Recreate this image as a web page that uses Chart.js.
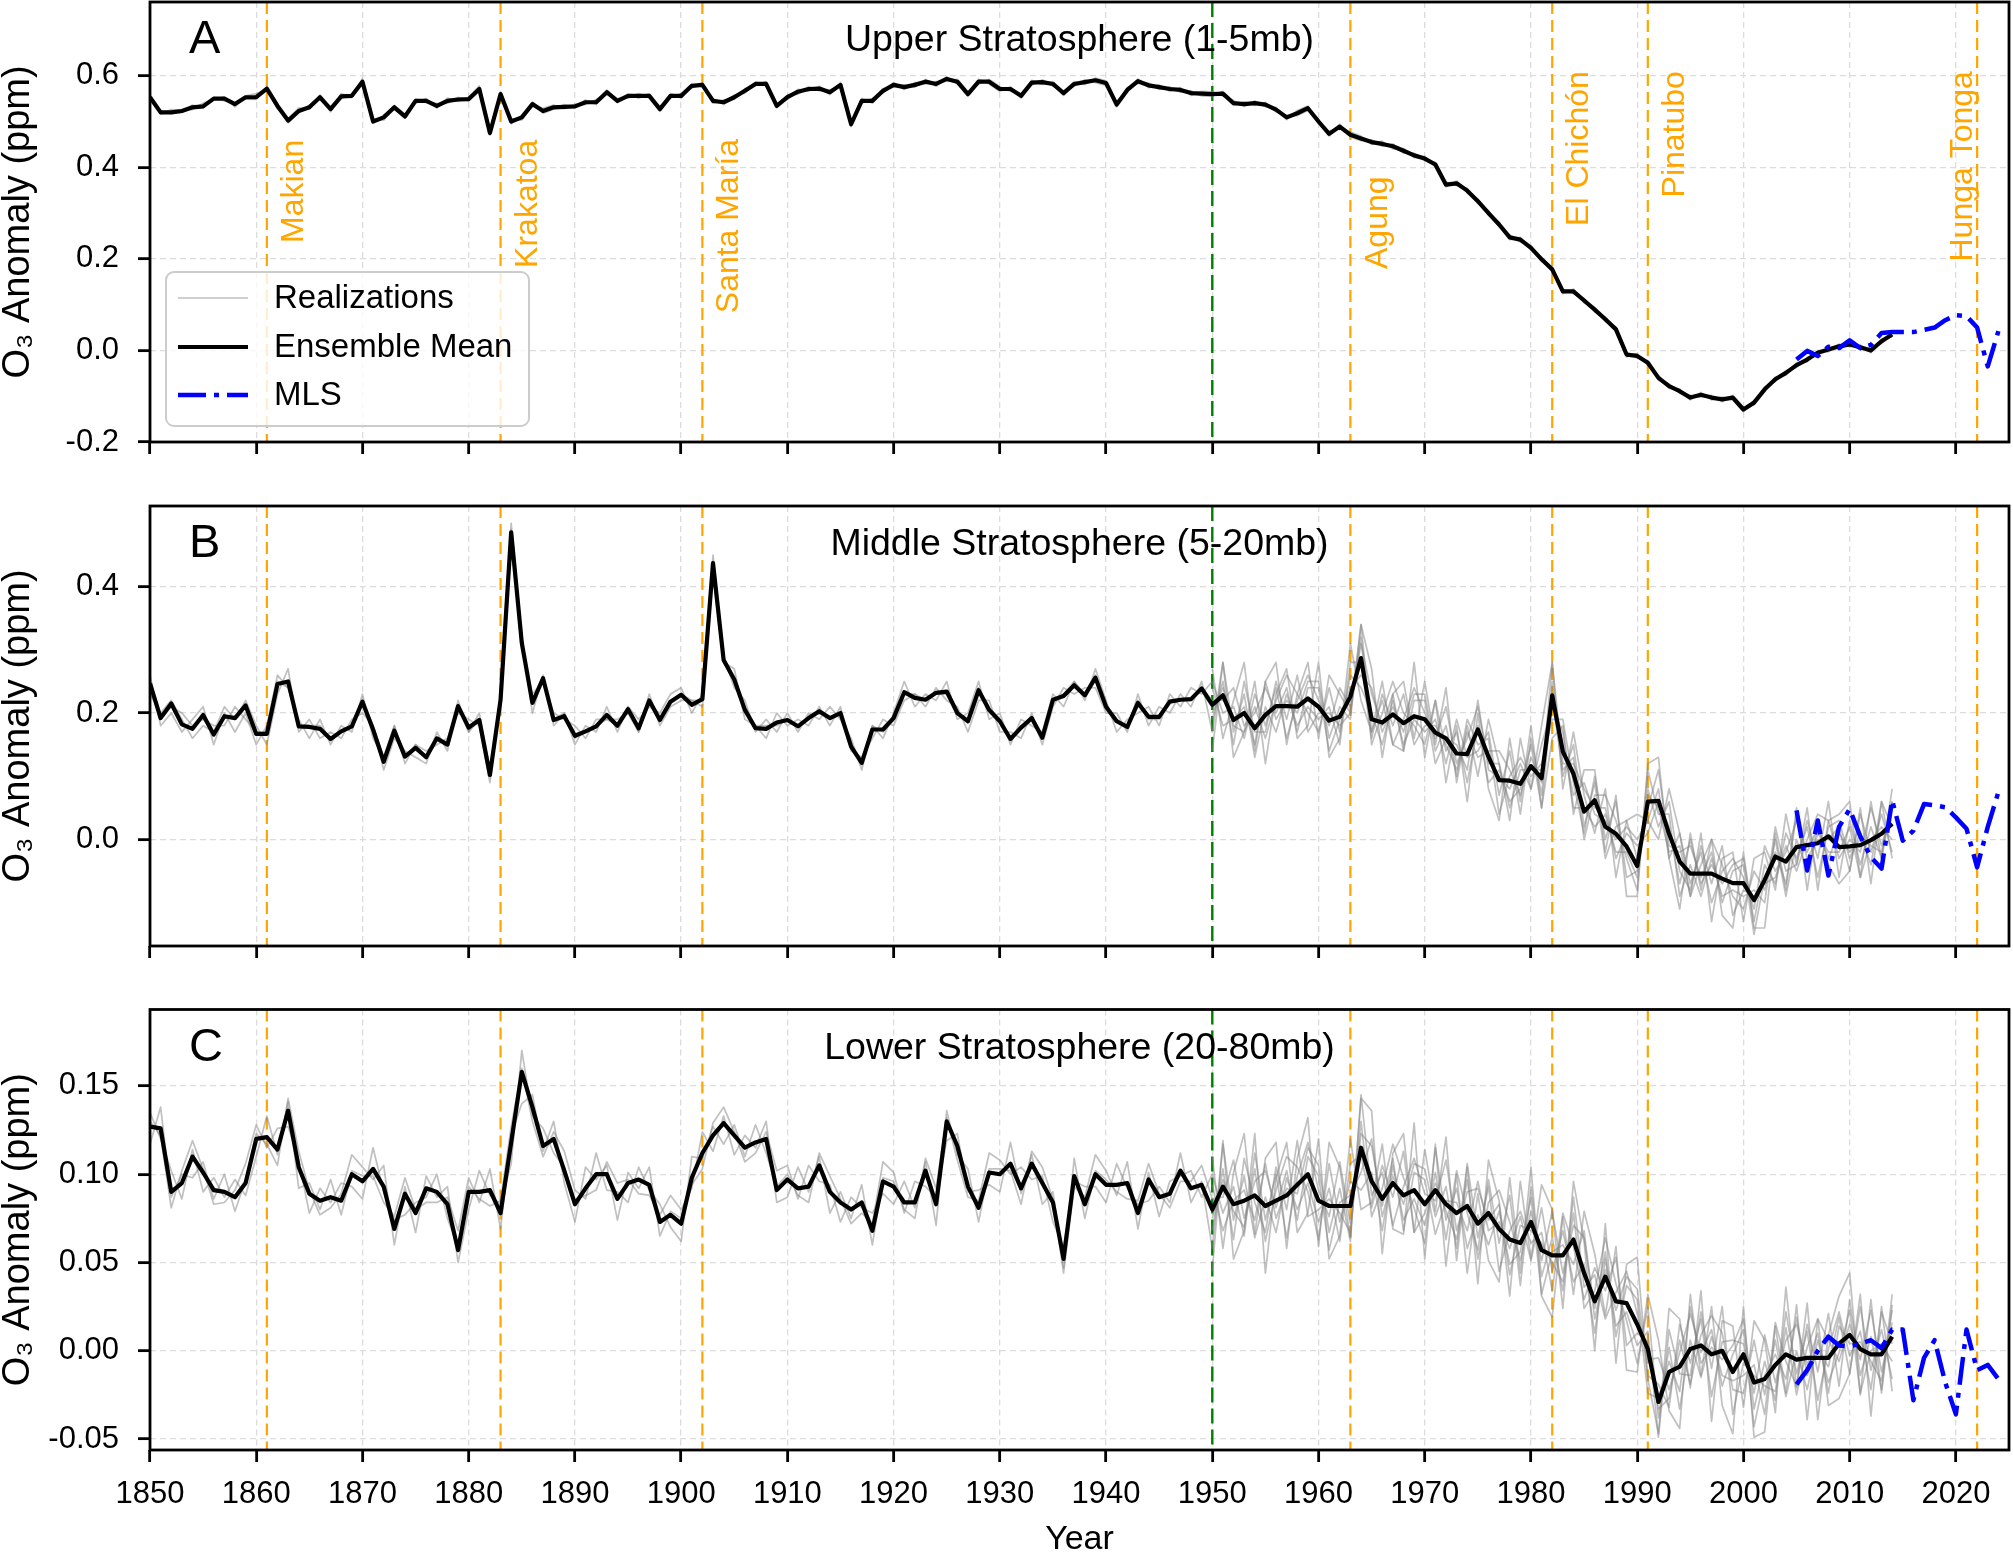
<!DOCTYPE html>
<html>
<head>
<meta charset="utf-8">
<script src="https://cdn.jsdelivr.net/npm/chart.js@4.4.1/dist/chart.umd.min.js"></script>
<style>
html,body{margin:0;padding:0;background:#ffffff;}
body{width:2013px;height:1557px;position:relative;overflow:hidden;}
canvas{position:absolute;left:0;display:block;}
</style>
</head>
<body>
<canvas id="panelA" width="2013" height="460" style="top:0px;width:2013px;height:460px"></canvas>
<canvas id="panelB" width="2013" height="500" style="top:460px;width:2013px;height:500px"></canvas>
<canvas id="panelC" width="2013" height="597" style="top:960px;width:2013px;height:597px"></canvas>
<script>
// ================= DATA =================
const modelStartYear = 1850;      // model series run 1850..2014
const extraMembersStartYear = 1950; // additional realizations start 1950
const mlsStartYear = 2005;        // MLS observations 2005..2024
const xTicks = [1850,1860,1870,1880,1890,1900,1910,1920,1930,1940,1950,1960,1970,1980,1990,2000,2010,2020];
const volcanoNames = ['Makian','Krakatoa','Santa María','Agung','El Chichón','Pinatubo','Hunga Tonga'];
const volcanoYears = [1861,1883,1902,1963,1982,1991,2022];
const referenceYear = 1950;

const yTicksA = [-0.2,0.0,0.2,0.4,0.6];
const yTickLabelsA = ['-0.2','0.0','0.2','0.4','0.6'];
const yTicksB = [0.0,0.2,0.4];
const yTickLabelsB = ['0.0','0.2','0.4'];
const yTicksC = [-0.05,0.0,0.05,0.10,0.15];
const yTickLabelsC = ['-0.05','0.00','0.05','0.10','0.15'];

// ---- Panel A: Upper Stratosphere (1-5mb) ----
const meanA = [
0.553,0.52,0.52,0.523,0.531,0.533,0.55,0.55,0.538,0.553,
0.553,0.572,0.534,0.502,0.523,0.531,0.553,0.527,0.555,0.556,
0.587,0.5,0.509,0.531,0.511,0.545,0.545,0.534,0.545,0.548,
0.549,0.571,0.475,0.56,0.5,0.509,0.538,0.523,0.531,0.532,
0.533,0.542,0.542,0.564,0.545,0.556,0.556,0.556,0.527,0.556,
0.556,0.578,0.58,0.545,0.542,0.553,0.567,0.582,0.582,0.534,
0.553,0.565,0.571,0.572,0.564,0.58,0.494,0.545,0.545,0.567,
0.58,0.575,0.58,0.587,0.582,0.593,0.587,0.56,0.587,0.587,
0.571,0.571,0.556,0.585,0.586,0.582,0.562,0.582,0.586,0.59,
0.584,0.537,0.569,0.588,0.579,0.575,0.571,0.569,0.562,0.561,
0.56,0.561,0.54,0.538,0.54,0.537,0.526,0.509,0.518,0.529,
0.5,0.473,0.489,0.471,0.463,0.455,0.451,0.446,0.436,0.426,
0.419,0.406,0.362,0.365,0.349,0.326,0.3,0.275,0.247,0.242,
0.224,0.199,0.177,0.129,0.129,0.109,0.089,0.068,0.046,-0.009,
-0.012,-0.027,-0.06,-0.078,-0.089,-0.103,-0.097,-0.103,-0.107,-0.103,
-0.129,-0.114,-0.085,-0.063,-0.049,-0.032,-0.02,-0.005,0.002,0.009,
0.013,0.007,0.0,0.02,0.035];
const realA1 = [
0.558,0.516,0.526,0.525,0.526,0.54,0.547,0.554,0.532,0.556,
0.561,0.568,0.528,0.506,0.53,0.527,0.558,0.521,0.561,0.552,
0.594,0.505,0.503,0.535,0.516,0.54,0.55,0.529,0.551,0.544,
0.553,0.578,0.482,0.555,0.495,0.514,0.533,0.529,0.536,0.528,
0.538,0.537,0.548,0.559,0.55,0.551,0.561,0.552,0.533,0.552,
0.561,0.573,0.585,0.54,0.547,0.549,0.572,0.578,0.587,0.539,
0.548,0.57,0.566,0.577,0.559,0.585,0.5,0.54,0.55,0.562,
0.585,0.57,0.585,0.582,0.587,0.588,0.592,0.565,0.582,0.592,
0.576,0.566,0.561,0.58,0.591,0.577,0.567,0.577,0.591,0.585,
0.579,0.543,0.564,0.593,0.574,0.58,0.566,0.574,0.557,0.566,
0.565,0.556,0.546,0.533,0.545,0.532,0.531,0.504,0.524,0.534,
0.495,0.479,0.484,0.477,0.468,0.45,0.457,0.44,0.441,0.421,
0.424,0.401,0.368,0.36,0.354,0.321,0.305,0.27,0.252,0.237,
0.229,0.194,0.182,0.124,0.134,0.104,0.094,0.063,0.051,-0.004,
-0.017,-0.022,-0.065,-0.073,-0.094,-0.098,-0.102,-0.098,-0.112,-0.098,
-0.124,-0.119,-0.08,-0.068,-0.044,-0.037,-0.015,-0.01,0.007,0.004,
0.018,0.002,0.005,0.015,0.04];
const realA2 = [
0.549,0.524,0.517,0.52,0.536,0.529,0.553,0.545,0.541,0.549,
0.548,0.575,0.539,0.497,0.519,0.536,0.549,0.532,0.55,0.56,
0.582,0.496,0.514,0.527,0.507,0.549,0.541,0.539,0.54,0.553,
0.545,0.566,0.47,0.565,0.506,0.503,0.543,0.518,0.527,0.537,
0.529,0.547,0.537,0.569,0.541,0.56,0.551,0.561,0.522,0.561,
0.551,0.582,0.576,0.55,0.537,0.558,0.562,0.586,0.577,0.53,
0.558,0.56,0.576,0.567,0.569,0.575,0.489,0.55,0.54,0.572,
0.575,0.58,0.575,0.592,0.577,0.598,0.582,0.555,0.592,0.582,
0.566,0.576,0.551,0.59,0.581,0.587,0.557,0.587,0.581,0.595,
0.589,0.532,0.574,0.583,0.584,0.57,0.576,0.564,0.567,0.556,
0.555,0.566,0.535,0.543,0.535,0.542,0.521,0.514,0.513,0.524,
0.505,0.468,0.494,0.466,0.458,0.46,0.446,0.451,0.431,0.431,
0.414,0.411,0.357,0.37,0.344,0.331,0.295,0.28,0.242,0.247,
0.219,0.204,0.172,0.134,0.124,0.114,0.084,0.073,0.041,-0.014,
-0.007,-0.032,-0.055,-0.083,-0.084,-0.108,-0.092,-0.108,-0.102,-0.108,
-0.134,-0.109,-0.09,-0.058,-0.054,-0.027,-0.025,0.0,-0.003,0.014,
0.008,0.012,-0.005,0.025,0.03];
const mlsA = [-0.02,-0.001,-0.012,0.008,0.005,0.022,0.005,0.012,0.038,0.04,0.04,0.04,0.045,0.05,0.066,0.077,0.075,0.05,-0.035,0.042];

// ---- Panel B: Middle Stratosphere (5-20mb) ----
const meanB = [
0.247,0.192,0.215,0.182,0.175,0.197,0.166,0.195,0.192,0.212,
0.167,0.167,0.246,0.25,0.179,0.178,0.175,0.159,0.171,0.179,
0.218,0.174,0.123,0.172,0.131,0.145,0.13,0.16,0.15,0.211,
0.177,0.189,0.102,0.221,0.486,0.311,0.216,0.255,0.189,0.195,
0.164,0.171,0.179,0.197,0.18,0.206,0.176,0.22,0.189,0.218,
0.229,0.213,0.222,0.437,0.284,0.253,0.205,0.176,0.175,0.185,
0.189,0.179,0.192,0.203,0.192,0.2,0.147,0.121,0.174,0.174,
0.192,0.233,0.224,0.221,0.232,0.234,0.2,0.187,0.236,0.205,
0.187,0.159,0.177,0.192,0.161,0.221,0.227,0.244,0.228,0.256,
0.21,0.187,0.178,0.216,0.194,0.194,0.218,0.221,0.222,0.239,
0.213,0.228,0.189,0.2,0.176,0.197,0.211,0.211,0.21,0.223,
0.21,0.188,0.194,0.226,0.287,0.19,0.185,0.198,0.184,0.195,
0.19,0.169,0.16,0.136,0.135,0.174,0.131,0.094,0.093,0.088,
0.116,0.097,0.228,0.139,0.104,0.044,0.062,0.02,0.009,-0.011,
-0.042,0.06,0.061,0.009,-0.035,-0.054,-0.054,-0.054,-0.062,-0.069,
-0.069,-0.096,-0.064,-0.027,-0.035,-0.012,-0.009,-0.006,0.005,-0.012,
-0.011,-0.009,-0.001,0.009,0.025];
const realB1 = [
0.26,0.18,0.2,0.17,0.19,0.21,0.15,0.2,0.17,0.2,
0.15,0.18,0.26,0.24,0.19,0.16,0.19,0.15,0.18,0.17,
0.23,0.16,0.13,0.18,0.12,0.15,0.14,0.15,0.16,0.2,
0.19,0.18,0.09,0.23,0.5,0.32,0.2,0.26,0.18,0.2,
0.15,0.18,0.17,0.21,0.17,0.21,0.19,0.21,0.2,0.23,
0.24,0.2,0.23,0.45,0.29,0.24,0.22,0.17,0.19,0.17,
0.2,0.17,0.2,0.19,0.21,0.19,0.16,0.11,0.18,0.16,
0.2,0.25,0.21,0.23,0.22,0.25,0.19,0.2,0.25,0.19,
0.2,0.15,0.19,0.18,0.17,0.23,0.21,0.25,0.22,0.27,
0.22,0.17,0.19,0.2,0.21,0.18,0.23,0.21,0.24,0.23,
0.25,0.2,0.21,0.16,0.23,0.18,0.24,0.16,0.22,0.26,
0.22,0.18,0.24,0.21,0.31,0.23,0.18,0.23,0.14,0.22,
0.22,0.12,0.16,0.15,0.11,0.22,0.11,0.1,0.08,0.12,
0.08,0.15,0.21,0.17,0.05,0.05,0.02,0.04,-0.02,-0.02,
-0.06,0.08,0.02,0.06,-0.05,-0.08,-0.01,-0.07,-0.01,-0.12,
-0.08,-0.09,-0.07,-0.06,-0.01,-0.05,0.0,0.04,0.03,-0.03,
0.0,-0.02,0.05,-0.01,0.05];
const realB2 = [
0.23,0.2,0.22,0.19,0.16,0.18,0.17,0.21,0.19,0.22,
0.18,0.15,0.23,0.27,0.17,0.19,0.16,0.17,0.16,0.19,
0.2,0.18,0.11,0.16,0.14,0.13,0.12,0.17,0.14,0.22,
0.17,0.2,0.11,0.21,0.47,0.3,0.23,0.25,0.2,0.19,
0.18,0.16,0.19,0.19,0.19,0.2,0.17,0.23,0.18,0.21,
0.22,0.22,0.21,0.42,0.28,0.27,0.19,0.18,0.16,0.2,
0.18,0.19,0.18,0.21,0.18,0.21,0.14,0.13,0.16,0.19,
0.18,0.22,0.23,0.21,0.24,0.22,0.21,0.17,0.22,0.22,
0.17,0.17,0.16,0.2,0.15,0.21,0.24,0.23,0.24,0.24,
0.2,0.2,0.17,0.23,0.18,0.21,0.2,0.23,0.21,0.25,
0.17,0.28,0.17,0.23,0.13,0.21,0.17,0.23,0.18,0.21,
0.19,0.21,0.15,0.28,0.28,0.16,0.23,0.18,0.23,0.15,
0.18,0.18,0.15,0.11,0.17,0.13,0.14,0.14,0.11,0.07,
0.13,0.09,0.28,0.12,0.12,0.08,0.05,0.05,-0.03,0.01,
-0.01,0.01,0.06,0.02,-0.07,0.0,-0.07,-0.04,-0.07,-0.04,
-0.03,-0.13,-0.04,-0.07,0.01,-0.03,0.02,-0.06,0.02,0.03,
-0.03,0.01,-0.04,0.06,0.02];
const realB3 = [
0.24,0.19,0.21,0.2,0.18,0.19,0.18,0.18,0.21,0.19,
0.17,0.17,0.25,0.24,0.18,0.18,0.18,0.16,0.17,0.18,
0.22,0.18,0.13,0.18,0.13,0.15,0.13,0.16,0.15,0.21,
0.17,0.19,0.11,0.22,0.49,0.31,0.22,0.25,0.19,0.2,
0.16,0.17,0.18,0.19,0.18,0.21,0.17,0.22,0.19,0.22,
0.23,0.22,0.22,0.44,0.28,0.25,0.21,0.18,0.18,0.18,
0.19,0.18,0.19,0.2,0.19,0.2,0.15,0.12,0.18,0.17,
0.19,0.23,0.23,0.22,0.23,0.23,0.2,0.19,0.24,0.2,
0.19,0.16,0.18,0.19,0.16,0.22,0.23,0.25,0.23,0.26,
0.21,0.19,0.18,0.22,0.19,0.19,0.22,0.22,0.22,0.24,
0.22,0.22,0.24,0.18,0.2,0.24,0.2,0.24,0.17,0.24,
0.24,0.14,0.19,0.24,0.26,0.24,0.17,0.21,0.17,0.23,
0.23,0.14,0.18,0.1,0.19,0.15,0.16,0.04,0.1,0.13,
0.1,0.12,0.19,0.19,0.09,0.01,0.1,0.0,0.06,-0.06,
-0.05,0.07,0.05,-0.02,-0.01,-0.09,-0.04,0.0,-0.04,-0.09,
-0.11,-0.05,-0.08,0.0,-0.09,0.0,-0.05,0.01,-0.02,-0.02,
0.02,-0.06,0.0,0.02,0.0];
const realB4 = [
0.19,0.25,0.15,0.25,0.17,0.17,0.25,0.19,0.26,0.17,
0.2,0.2,0.18,0.2,0.32,0.15,0.2,0.25,0.2,0.18,
0.15,0.22,0.14,0.17,0.09,0.18,0.09,0.11,0.06,0.08,
0.15,0.05,0.23,0.15,0.07,0.09,0.04,0.03,0.0,0.02,
0.0,0.03,0.08,-0.03,0.01,-0.07,-0.02,-0.1,-0.05,-0.03,
-0.06,-0.11,-0.01,-0.05,-0.02,0.03,-0.02,0.02,-0.03,0.01,
-0.02,0.0,-0.01,-0.02,0.06];
const realB5 = [
0.24,0.18,0.19,0.21,0.15,0.25,0.19,0.22,0.2,0.25,
0.25,0.16,0.21,0.19,0.34,0.17,0.22,0.15,0.19,0.24,
0.2,0.16,0.21,0.12,0.16,0.21,0.12,0.12,0.05,0.11,
0.11,0.11,0.22,0.11,0.13,0.0,0.07,0.07,0.03,-0.03,
-0.08,0.11,0.04,0.04,-0.09,-0.04,-0.09,-0.03,-0.09,-0.08,
-0.09,-0.08,-0.1,0.02,-0.05,-0.04,0.03,-0.03,0.06,-0.06,
0.03,-0.04,0.02,-0.03,0.08];
const realB6 = [
0.2,0.24,0.18,0.17,0.21,0.16,0.22,0.26,0.23,0.2,
0.17,0.24,0.17,0.26,0.24,0.2,0.15,0.22,0.15,0.19,
0.17,0.19,0.12,0.19,0.13,0.14,0.17,0.07,0.14,0.04,
0.16,0.07,0.25,0.1,0.15,0.02,0.09,-0.03,0.02,0.03,
-0.03,0.05,0.11,-0.01,-0.02,-0.01,-0.06,-0.02,-0.1,-0.05,
-0.04,-0.15,-0.06,-0.02,-0.07,0.04,-0.03,0.0,0.0,0.02,
-0.05,0.04,-0.02,0.04,-0.02];
const realB7 = [
0.27,0.16,0.22,0.28,0.14,0.25,0.28,0.15,0.23,0.28,
0.16,0.26,0.23,0.2,0.34,0.27,0.13,0.23,0.25,0.16,
0.25,0.15,0.24,0.09,0.18,0.1,0.19,0.12,0.03,0.16,
0.08,0.18,0.28,0.08,0.17,0.07,0.01,0.08,-0.06,0.03,
0.04,0.03,0.0,0.08,0.01,-0.09,0.01,-0.13,-0.03,-0.02,
-0.13,-0.03,-0.02,-0.08,0.04,-0.04,0.05,-0.08,0.03,0.04,
0.06,-0.06,0.06,-0.03,0.06];
const realB8 = [
0.14,0.28,0.13,0.17,0.25,0.12,0.23,0.27,0.16,0.18,
0.28,0.13,0.16,0.31,0.22,0.17,0.25,0.15,0.14,0.28,
0.13,0.22,0.09,0.18,0.06,0.2,0.08,0.03,0.16,0.06,
0.18,0.05,0.16,0.18,0.04,0.11,0.11,-0.02,0.07,-0.09,
-0.09,0.12,0.13,-0.03,-0.11,0.01,-0.08,0.0,-0.12,-0.14,
-0.02,-0.14,-0.14,0.01,-0.08,0.05,-0.08,0.03,-0.04,-0.07,
-0.05,0.05,-0.07,0.06,-0.03];
const mlsB = [0.046,-0.049,0.03,-0.057,0.02,0.048,0.005,-0.028,-0.046,0.062,-0.002,0.014,0.056,0.054,0.051,0.035,0.017,-0.044,0.02,0.075];

// ---- Panel C: Lower Stratosphere (20-80mb) ----
const meanC = [
0.127,0.126,0.090,0.095,0.110,0.101,0.091,0.090,0.087,0.095,
0.120,0.121,0.114,0.136,0.104,0.089,0.085,0.087,0.085,0.100,
0.096,0.103,0.093,0.069,0.089,0.078,0.092,0.090,0.083,0.057,
0.090,0.090,0.091,0.078,0.118,0.158,0.138,0.116,0.120,0.102,
0.083,0.092,0.100,0.100,0.086,0.095,0.097,0.094,0.073,0.077,
0.072,0.098,0.112,0.122,0.129,0.122,0.115,0.118,0.120,0.091,
0.097,0.092,0.093,0.105,0.090,0.084,0.080,0.084,0.068,0.096,
0.093,0.084,0.084,0.102,0.083,0.130,0.116,0.093,0.081,0.101,
0.100,0.106,0.092,0.106,0.095,0.084,0.052,0.099,0.083,0.100,
0.094,0.094,0.095,0.078,0.097,0.087,0.089,0.102,0.092,0.094,
0.080,0.093,0.083,0.085,0.088,0.082,0.085,0.088,0.094,0.100,
0.085,0.082,0.082,0.082,0.115,0.096,0.086,0.095,0.088,0.091,
0.083,0.091,0.083,0.078,0.082,0.072,0.078,0.069,0.063,0.061,
0.073,0.057,0.054,0.054,0.063,0.044,0.028,0.042,0.028,0.027,
0.015,0.001,-0.029,-0.012,-0.009,0.001,0.003,-0.002,0.000,-0.012,
-0.002,-0.018,-0.016,-0.008,-0.002,-0.005,-0.004,-0.004,-0.004,0.004,
0.009,0.001,-0.002,-0.002,0.008];
const realC1 = [
0.135,0.120,0.102,0.086,0.114,0.090,0.098,0.087,0.097,0.088,
0.110,0.133,0.111,0.141,0.092,0.095,0.080,0.097,0.077,0.102,
0.099,0.099,0.084,0.076,0.098,0.080,0.084,0.084,0.087,0.068,
0.098,0.084,0.103,0.069,0.122,0.140,0.145,0.113,0.130,0.095,
0.073,0.104,0.097,0.105,0.074,0.101,0.092,0.104,0.065,0.079,
0.075,0.094,0.103,0.129,0.138,0.124,0.107,0.112,0.124,0.102,
0.105,0.086,0.105,0.096,0.094,0.073,0.087,0.081,0.078,0.089,
0.083,0.096,0.081,0.107,0.071,0.136,0.111,0.103,0.073,0.103,
0.103,0.102,0.083,0.113,0.104,0.086,0.044,0.093,0.087,0.111,
0.102,0.088,0.107,0.069,0.101,0.076,0.096,0.099,0.102,0.087,
0.100,0.078,0.093,0.065,0.112,0.074,0.100,0.064,0.099,0.118,
0.091,0.076,0.107,0.072,0.123,0.116,0.082,0.109,0.068,0.101,
0.097,0.066,0.085,0.084,0.068,0.096,0.068,0.073,0.058,0.076,
0.051,0.081,0.045,0.068,0.039,0.049,0.010,0.052,0.014,0.022,
0.003,0.011,-0.049,0.012,-0.013,-0.014,0.022,-0.010,0.025,-0.036,
-0.007,-0.014,-0.020,-0.023,0.013,-0.025,0.002,0.018,0.006,-0.006,
0.015,-0.005,0.023,-0.012,0.016];
const realC2 = [
0.117,0.138,0.087,0.100,0.098,0.107,0.086,0.100,0.079,0.097,
0.123,0.117,0.105,0.143,0.113,0.091,0.077,0.081,0.089,0.111,
0.104,0.097,0.105,0.060,0.093,0.067,0.099,0.087,0.093,0.050,
0.080,0.102,0.088,0.083,0.106,0.170,0.133,0.126,0.112,0.104,
0.086,0.088,0.091,0.107,0.095,0.097,0.089,0.088,0.077,0.088,
0.080,0.092,0.124,0.113,0.133,0.111,0.122,0.115,0.130,0.084,
0.087,0.104,0.090,0.110,0.078,0.090,0.075,0.094,0.060,0.098,
0.096,0.080,0.075,0.109,0.092,0.132,0.108,0.087,0.085,0.112,
0.108,0.100,0.104,0.097,0.099,0.073,0.059,0.096,0.093,0.093,
0.084,0.106,0.092,0.083,0.085,0.093,0.084,0.112,0.084,0.096,
0.058,0.117,0.074,0.099,0.064,0.087,0.067,0.098,0.080,0.095,
0.073,0.092,0.062,0.106,0.111,0.081,0.105,0.087,0.113,0.067,
0.078,0.095,0.079,0.063,0.097,0.052,0.084,0.091,0.073,0.051,
0.079,0.051,0.079,0.044,0.071,0.064,0.024,0.056,0.008,0.037,
0.029,-0.024,-0.027,-0.006,-0.023,0.025,-0.007,0.002,-0.005,0.003,
0.018,-0.033,-0.006,-0.028,0.022,-0.013,0.011,-0.028,0.001,0.022,
-0.003,0.011,-0.022,0.022,0.004];
const realC3 = [
0.130,0.122,0.081,0.102,0.119,0.103,0.083,0.084,0.091,0.106,
0.128,0.115,0.126,0.127,0.108,0.078,0.092,0.084,0.095,0.093,
0.086,0.115,0.090,0.074,0.077,0.084,0.087,0.100,0.075,0.059,
0.093,0.086,0.082,0.085,0.127,0.160,0.130,0.110,0.124,0.113,
0.091,0.086,0.112,0.091,0.090,0.084,0.104,0.091,0.083,0.070,
0.062,0.110,0.109,0.127,0.117,0.128,0.110,0.128,0.112,0.093,
0.100,0.088,0.084,0.112,0.099,0.086,0.072,0.078,0.072,0.107,
0.101,0.078,0.096,0.093,0.087,0.119,0.123,0.090,0.091,0.094,
0.090,0.118,0.089,0.111,0.083,0.090,0.047,0.109,0.075,0.102,
0.097,0.090,0.086,0.085,0.106,0.089,0.081,0.096,0.096,0.105,
0.086,0.087,0.108,0.075,0.096,0.102,0.081,0.102,0.074,0.110,
0.099,0.057,0.084,0.088,0.101,0.120,0.076,0.099,0.083,0.106,
0.103,0.076,0.093,0.058,0.106,0.064,0.093,0.045,0.068,0.079,
0.061,0.067,0.034,0.078,0.059,0.029,0.047,0.034,0.053,0.003,
0.010,0.005,-0.033,-0.027,0.006,-0.019,0.009,0.020,0.010,-0.022,
-0.024,0.006,-0.025,0.006,-0.026,0.000,-0.022,0.006,-0.018,-0.001,
0.023,-0.024,0.000,0.004,-0.006];
const realC4 = [
0.068,0.103,0.063,0.109,0.084,0.067,0.104,0.080,0.119,0.076,
0.080,0.086,0.078,0.067,0.130,0.076,0.092,0.117,0.098,0.081,
0.061,0.115,0.074,0.092,0.058,0.077,0.060,0.079,0.049,0.056,
0.087,0.032,0.056,0.060,0.049,0.068,0.018,0.046,0.023,0.042,
0.035,-0.014,-0.019,-0.032,0.015,-0.007,0.018,-0.026,0.005,0.006,
0.004,-0.024,0.009,-0.018,0.006,0.015,-0.008,0.010,-0.024,0.014,
0.004,0.005,-0.006,-0.017,0.023];
const realC5 = [
0.094,0.068,0.085,0.091,0.074,0.106,0.075,0.092,0.089,0.115,
0.105,0.067,0.092,0.062,0.145,0.088,0.101,0.071,0.093,0.109,
0.089,0.085,0.108,0.068,0.090,0.092,0.074,0.083,0.043,0.071,
0.068,0.061,0.050,0.039,0.078,0.024,0.034,0.064,0.038,0.017,
-0.007,0.025,-0.038,0.002,-0.033,0.006,-0.015,0.008,-0.014,-0.017,
-0.014,-0.008,-0.036,0.016,-0.006,-0.020,0.015,-0.012,0.021,-0.020,
0.029,-0.014,0.008,-0.022,0.032];
const realC6 = [
0.075,0.097,0.079,0.070,0.103,0.062,0.091,0.110,0.104,0.090,
0.063,0.106,0.073,0.096,0.091,0.101,0.068,0.105,0.074,0.086,
0.071,0.101,0.063,0.102,0.078,0.057,0.097,0.061,0.088,0.037,
0.093,0.042,0.064,0.034,0.087,0.036,0.043,0.018,0.033,0.045,
0.021,-0.005,-0.004,-0.022,-0.001,0.021,-0.001,0.012,-0.020,-0.002,
0.012,-0.043,-0.014,-0.002,-0.016,0.019,-0.014,0.000,-0.009,0.019,
-0.013,0.025,-0.011,0.012,-0.016];
const realC7 = [
0.110,0.058,0.101,0.123,0.066,0.109,0.118,0.058,0.109,0.132,
0.059,0.118,0.104,0.064,0.143,0.136,0.055,0.112,0.123,0.067,
0.114,0.079,0.121,0.051,0.104,0.038,0.108,0.085,0.031,0.096,
0.052,0.094,0.080,0.024,0.096,0.062,0.000,0.072,-0.007,0.049,
0.053,-0.016,-0.047,0.024,0.018,-0.021,0.034,-0.040,0.017,0.014,
-0.032,0.017,0.006,-0.035,0.036,-0.021,0.027,-0.039,0.009,0.031,
0.044,-0.025,0.029,-0.024,0.026];
const realC8 = [
0.045,0.119,0.052,0.068,0.123,0.044,0.098,0.118,0.067,0.078,
0.120,0.052,0.065,0.120,0.080,0.084,0.117,0.069,0.066,0.129,
0.052,0.117,0.048,0.100,0.044,0.089,0.051,0.039,0.098,0.044,
0.104,0.031,0.019,0.076,0.032,0.079,0.055,0.020,0.059,-0.011,
-0.012,0.032,0.006,-0.034,-0.044,0.032,-0.014,0.025,-0.031,-0.047,
0.025,-0.049,-0.046,0.014,-0.024,0.026,-0.039,0.018,-0.031,-0.027,
-0.013,0.032,-0.037,0.025,-0.023];
const mlsC = [-0.019,-0.011,0.0,0.008,0.003,0.0025,0.004,0.006,0.0015,0.012,0.012,-0.028,-0.004,0.006,-0.018,-0.036,0.012,-0.011,-0.008,-0.016];

// ================= STYLE / LAYOUT =================
const FONT = "'Liberation Sans', Arial, Helvetica, sans-serif";
Chart.defaults.font.family = FONT;
Chart.defaults.color = '#000';

const COL_REAL = 'rgba(130,130,130,0.5)';
const COL_MEAN = '#000000';
const COL_MLS = '#0000ff';
const COL_VOLC = '#ffa500';
const COL_REF = '#008000';
const COL_GRID = '#dcdcdc';
const MLS_DASH = [28, 8, 5, 8];
const TICK_LEN = 12;

function series(values, start) {
  return values.map((v, i) => ({x: start + i, y: v}));
}

function roundRectPath(ctx, x, y, w, h, r) {
  ctx.beginPath();
  ctx.moveTo(x + r, y);
  ctx.lineTo(x + w - r, y);
  ctx.arcTo(x + w, y, x + w, y + r, r);
  ctx.lineTo(x + w, y + h - r);
  ctx.arcTo(x + w, y + h, x + w - r, y + h, r);
  ctx.lineTo(x + r, y + h);
  ctx.arcTo(x, y + h, x, y + h - r, r);
  ctx.lineTo(x, y + r);
  ctx.arcTo(x, y, x + r, y, r);
  ctx.closePath();
}

function drawLegend(ctx, a) {
  const bx = a.left + 16, by = a.top + 270, bw = 363, bh = 154;
  roundRectPath(ctx, bx, by, bw, bh, 8);
  ctx.setLineDash([]);
  ctx.fillStyle = 'rgba(255,255,255,0.8)';
  ctx.fill();
  ctx.strokeStyle = '#cccccc';
  ctx.lineWidth = 2;
  ctx.stroke();
  const hx1 = a.left + 28, hx2 = a.left + 98, tx = a.left + 124;
  const rows = [
    {label: 'Realizations', color: 'rgba(150,150,150,0.45)', width: 2, dash: [], y: a.top + 296},
    {label: 'Ensemble Mean', color: COL_MEAN, width: 4.2, dash: [], y: a.top + 345},
    {label: 'MLS', color: COL_MLS, width: 4.5, dash: MLS_DASH, y: a.top + 393}
  ];
  ctx.font = '33px ' + FONT;
  ctx.textAlign = 'left';
  ctx.textBaseline = 'middle';
  rows.forEach(r => {
    ctx.beginPath();
    ctx.setLineDash(r.dash);
    ctx.strokeStyle = r.color;
    ctx.lineWidth = r.width;
    ctx.moveTo(hx1, r.y);
    ctx.lineTo(hx2, r.y);
    ctx.stroke();
    ctx.setLineDash([]);
    ctx.fillStyle = '#000';
    ctx.fillText(r.label, tx, r.y + 1);
  });
}

function decorPlugin(p) {
  return {
    id: 'decor' + p.letter,
    beforeDatasetsDraw(chart) {
      const {ctx, chartArea: a, scales: {x}} = chart;
      ctx.save();
      ctx.beginPath();
      ctx.rect(a.left, a.top, a.right - a.left, a.bottom - a.top);
      ctx.clip();
      ctx.strokeStyle = COL_VOLC;
      ctx.lineWidth = 2.2;
      ctx.setLineDash([12, 6]);
      volcanoYears.forEach(v => {
        const px = x.getPixelForValue(v);
        ctx.beginPath(); ctx.moveTo(px, a.top); ctx.lineTo(px, a.bottom); ctx.stroke();
      });
      const gx = x.getPixelForValue(referenceYear);
      ctx.strokeStyle = COL_REF;
      ctx.lineWidth = 2.4;
      ctx.setLineDash([15, 6]);
      ctx.beginPath(); ctx.moveTo(gx, a.top); ctx.lineTo(gx, a.bottom); ctx.stroke();
      ctx.restore();
    },
    afterDatasetsDraw(chart) {
      const {ctx, chartArea: a, scales: {x, y}} = chart;
      ctx.save();
      if (p.volcanoLabels) {
        ctx.fillStyle = COL_VOLC;
        ctx.font = '32px ' + FONT;
        ctx.textAlign = 'right';
        ctx.textBaseline = 'alphabetic';
        volcanoNames.forEach((name, i) => {
          const px = x.getPixelForValue(volcanoYears[i]) + p.volcanoLabels.offsets[i];
          const py = y.getPixelForValue(p.volcanoLabels.tops[i]);
          ctx.save();
          ctx.translate(px, py);
          ctx.rotate(-Math.PI / 2);
          ctx.fillText(name, 0, 0);
          ctx.restore();
        });
      }
      ctx.setLineDash([]);
      ctx.strokeStyle = '#000';
      ctx.lineWidth = 2.8;
      ctx.strokeRect(a.left, a.top, a.right - a.left, a.bottom - a.top);
      ctx.fillStyle = '#000';
      ctx.textBaseline = 'alphabetic';
      ctx.textAlign = 'left';
      ctx.font = '47px ' + FONT;
      ctx.fillText(p.letter, a.left + 39, a.top + 51);
      ctx.textAlign = 'center';
      ctx.font = '37.5px ' + FONT;
      ctx.fillText(p.title, (a.left + a.right) / 2, a.top + 49);
      if (p.legend) drawLegend(ctx, a);
      ctx.restore();
    }
  };
}

function gridOpts() {
  return {
    color: COL_GRID, lineWidth: 1.3, drawTicks: true, tickLength: TICK_LEN,
    tickColor: '#000', tickWidth: 2.8, tickBorderDash: []
  };
}

function buildChart(id, p) {
  const datasets = [];
  p.realizations.forEach(r => {
    datasets.push({
      label: 'Realizations', data: series(r.values, r.start),
      borderColor: COL_REAL, borderWidth: 1.7, pointRadius: 0,
      borderJoinStyle: 'round', order: 3
    });
  });
  datasets.push({
    label: 'Ensemble Mean', data: series(p.mean, modelStartYear),
    borderColor: COL_MEAN, borderWidth: 4.2, pointRadius: 0,
    borderJoinStyle: 'round', order: 2
  });
  datasets.push({
    label: 'MLS', data: series(p.mls, mlsStartYear),
    borderColor: COL_MLS, borderWidth: 4.5, borderDash: MLS_DASH,
    pointRadius: 0, borderJoinStyle: 'round', order: 1
  });

  return new Chart(document.getElementById(id), {
    type: 'line',
    data: {datasets},
    options: {
      responsive: false,
      maintainAspectRatio: false,
      devicePixelRatio: 1,
      animation: false,
      events: [],
      layout: {padding: {top: p.padTop, right: 4, bottom: 0, left: 0}},
      plugins: {legend: {display: false}, tooltip: {enabled: false}, title: {display: false}},
      scales: {
        x: {
          type: 'linear', min: 1850, max: 2025,
          afterBuildTicks: s => { s.ticks = xTicks.map(v => ({value: v})); },
          afterFit: s => { s.height = p.xHeight; s.paddingLeft = 0; s.paddingRight = 0; },
          ticks: {
            display: p.showX, autoSkip: false, maxRotation: 0, minRotation: 0,
            padding: 14, font: {size: 31}, color: '#000',
            callback: v => String(v)
          },
          grid: gridOpts(),
          border: {display: false, dash: [6, 4]},
          title: {display: p.showX, text: 'Year', color: '#000', font: {size: 34, lineHeight: 1}, padding: {top: 0, bottom: 0}}
        },
        y: {
          type: 'linear', min: p.yMin, max: p.yMax,
          afterBuildTicks: s => { s.ticks = p.yTicks.map(v => ({value: v})); },
          afterFit: s => { s.width = 150; s.paddingTop = 0; s.paddingBottom = 0; },
          ticks: {
            padding: 19, font: {size: 31}, color: '#000',
            callback: v => { const k = p.yTicks.findIndex(t => Math.abs(t - v) < 1e-9); return k >= 0 ? p.yTickLabels[k] : ''; }
          },
          grid: gridOpts(),
          border: {display: false, dash: [6, 4]},
          title: {display: true, text: 'O₃ Anomaly (ppm)', color: '#000', font: {size: 38, lineHeight: 1}, padding: {top: 0, bottom: 0}}
        }
      }
    },
    plugins: [decorPlugin(p)]
  });
}

buildChart('panelA', {
  letter: 'A', title: 'Upper Stratosphere (1-5mb)',
  mean: meanA, mls: mlsA,
  realizations: [{values: realA1, start: modelStartYear}, {values: realA2, start: modelStartYear}],
  yMin: -0.2, yMax: 0.761, yTicks: yTicksA, yTickLabels: yTickLabelsA,
  padTop: 2, xHeight: 18, showX: false, legend: true,
  volcanoLabels: {tops: [0.46, 0.46, 0.462, 0.38, 0.61, 0.61, 0.61], offsets: [36, 36, 36, 37, 36, 36, -5]}
});

buildChart('panelB', {
  letter: 'B', title: 'Middle Stratosphere (5-20mb)',
  mean: meanB, mls: mlsB,
  realizations: [
    {values: realB1, start: modelStartYear}, {values: realB2, start: modelStartYear}, {values: realB3, start: modelStartYear},
    {values: realB4, start: extraMembersStartYear}, {values: realB5, start: extraMembersStartYear}, {values: realB6, start: extraMembersStartYear},
    {values: realB7, start: extraMembersStartYear}, {values: realB8, start: extraMembersStartYear}
  ],
  yMin: -0.1685, yMax: 0.5275, yTicks: yTicksB, yTickLabels: yTickLabelsB,
  padTop: 46, xHeight: 14, showX: false, legend: false, volcanoLabels: null
});

buildChart('panelC', {
  letter: 'C', title: 'Lower Stratosphere (20-80mb)',
  mean: meanC, mls: mlsC,
  realizations: [
    {values: realC1, start: modelStartYear}, {values: realC2, start: modelStartYear}, {values: realC3, start: modelStartYear},
    {values: realC4, start: extraMembersStartYear}, {values: realC5, start: extraMembersStartYear}, {values: realC6, start: extraMembersStartYear},
    {values: realC7, start: extraMembersStartYear}, {values: realC8, start: extraMembersStartYear}
  ],
  yMin: -0.0562, yMax: 0.1933, yTicks: yTicksC, yTickLabels: yTickLabelsC,
  padTop: 49.5, xHeight: 107, showX: true, legend: false, volcanoLabels: null
});
</script>
</body>
</html>
